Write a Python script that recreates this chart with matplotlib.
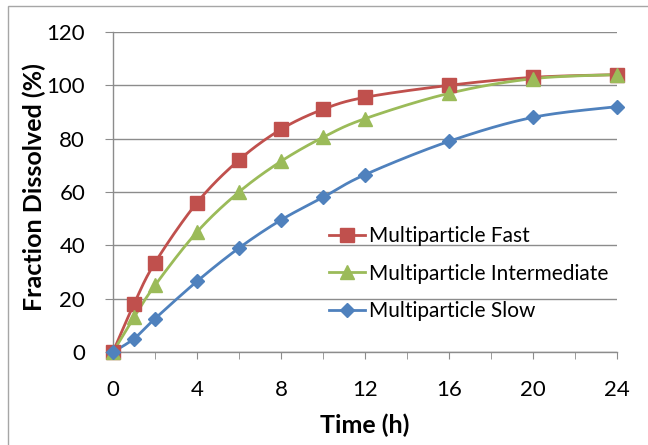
import numpy as np
import matplotlib
matplotlib.use("Agg")
import matplotlib.pyplot as plt
from matplotlib.patches import Rectangle

# Dissolution profiles
time_h = [0, 1, 2, 4, 6, 8, 10, 12, 16, 20, 24]
fast = [0, 18, 33.5, 56, 72, 83.5, 91, 95.5, 100, 103, 104]
intermediate = [0, 13, 25, 45, 60, 71.5, 80.5, 87.5, 97, 102.5, 104]
slow = [0, 5, 12.5, 26.5, 39, 49.5, 58, 66.5, 79, 88, 92]
series_names = ["Multiparticle Fast", "Multiparticle Intermediate", "Multiparticle Slow"]
x_ticks = [0, 4, 8, 12, 16, 20, 24]
y_ticks = [0, 20, 40, 60, 80, 100, 120]

FONT = ["Lato", "DejaVu Sans"]
plt.rcParams["font.family"] = FONT

W, H = 648, 445
fig = plt.figure(figsize=(W / 100, H / 100), dpi=100)
ax = fig.add_axes([113 / W, 1 - 352 / H, (617 - 113) / W, (352 - 32) / H])

XMAX, YMAX = 24, 120
PW, PH = 504.0, 320.0  # plot size in pixels, used to smooth in screen space


def smooth(xs, ys, n=30):
    """Bezier smoothing through the points (Catmull-Rom style), in screen space."""
    px = np.asarray(xs, float) / XMAX * PW
    py = np.asarray(ys, float) / YMAX * PH
    pts = np.column_stack([px, py])
    out = []
    for i in range(len(pts) - 1):
        p0 = pts[i - 1] if i > 0 else pts[i]
        p1, p2 = pts[i], pts[i + 1]
        p3 = pts[i + 2] if i + 2 < len(pts) else pts[i + 1]
        c1 = p1 + (p2 - p0) / 6.0
        c2 = p2 - (p3 - p1) / 6.0
        t = np.linspace(0, 1, n)[:, None]
        seg = ((1 - t) ** 3) * p1 + 3 * ((1 - t) ** 2) * t * c1 + 3 * (1 - t) * t ** 2 * c2 + t ** 3 * p2
        out.append(seg if i == 0 else seg[1:])
    seg = np.vstack(out)
    return seg[:, 0] / PW * XMAX, seg[:, 1] / PH * YMAX


styles = [
    (fast, "#C0504D", "s", 9.5),
    (intermediate, "#9BBB59", "^", 10.5),
    (slow, "#4F81BD", "D", 7.5),
]

for ys, col, mk, ms in styles:
    sx, sy = smooth(time_h, ys)
    ax.plot(sx, sy, color=col, lw=2.0, zorder=3, clip_on=False, solid_capstyle="round")
    ax.plot(time_h, ys, ls="none", marker=mk, ms=ms, color=col, mec=col, zorder=4, clip_on=False)

# legend handles
handles = []
for (ys, col, mk, ms), name in zip(styles, series_names):
    (h,) = ax.plot([], [], color=col, lw=2.0, marker=mk, ms=ms, mec=col, label=name)
    handles.append(h)
leg = ax.legend(handles=handles, loc="upper left",
                bbox_to_anchor=((329 - 113) / 504, (352 - 226) / 320),
                frameon=False, fontsize=15, handlelength=1.75, handletextpad=0.15,
                labelspacing=0.85, borderaxespad=0, borderpad=0)

ax.set_xlim(0, XMAX)
ax.set_ylim(0, YMAX)
ax.set_xticks(x_ticks)
ax.set_xticks(np.arange(0, 25, 2), minor=True)
ax.set_yticks(y_ticks)
ax.set_xticklabels([str(v) for v in x_ticks])
ax.set_yticklabels([str(v) for v in y_ticks])

grid_col = "#8C8C8C"
ax.grid(axis="y", color=grid_col, lw=1.0, zorder=0)
ax.set_axisbelow(True)
for s in ["top", "right"]:
    ax.spines[s].set_visible(False)
for s in ["left", "bottom"]:
    ax.spines[s].set_color(grid_col)
    ax.spines[s].set_linewidth(1.0)

ax.tick_params(axis="y", which="major", length=6, color=grid_col, labelsize=16, pad=14, direction="out")
ax.tick_params(axis="x", which="both", length=5, color=grid_col, labelsize=16, pad=15, direction="out")

ax.set_xlabel("Time (h)", fontsize=18, fontweight="bold")
ax.set_ylabel("Fraction Dissolved (%)", fontsize=18, fontweight="bold")
ax.xaxis.set_label_coords(365 / W, 1 - 414 / H, transform=fig.transFigure)
ax.yaxis.set_label_coords(46 / W, 1 - 187 / H, transform=fig.transFigure)

# chart area border
fig.patches.append(Rectangle((8 / W, -0.05), 1.2, 1 - 6 / H + 0.05, transform=fig.transFigure,
                             fill=False, edgecolor="#A6A6A6", lw=1.0))

fig.savefig("out.png", dpi=100)
